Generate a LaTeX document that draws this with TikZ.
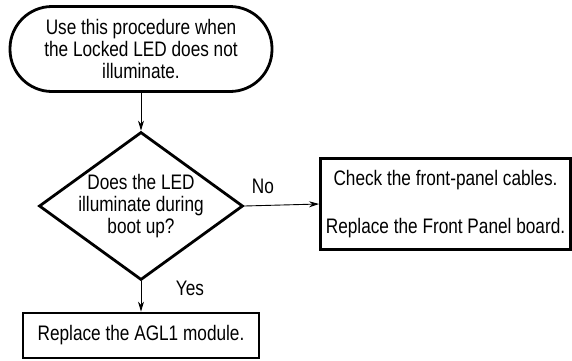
\documentclass[tikz,border=0pt]{standalone}
\usepackage{fontspec}
\setmainfont{Liberation Sans}[FakeStretch=0.82]
\usetikzlibrary{shapes.geometric,arrows.meta}
\tikzset{
  frame/.style={draw, line width=2.8pt, align=center, inner sep=0pt},
  flow/.style={-{Stealth[length=10pt,width=6pt]}, line width=0.9pt}
}
\begin{document}
\begin{tikzpicture}[x=1pt,y=-1pt,font=\fontsize{21}{22}\selectfont]
  \useasboundingbox (0,0) rectangle (572,360);
  % Nodi
  \node[frame, rounded corners=42pt, minimum width=262pt, minimum height=85pt] (start) at (141,49)
    {Use this procedure when\\the Locked LED does not\\illuminate.};
  \node[frame, diamond, aspect=1.38, inner sep=-3pt, minimum width=204pt, minimum height=148pt] (led) at (141,206)
    {Does the LED\\illuminate during\\boot up?};
  \node[frame, minimum width=250pt, minimum height=91pt] (front) at (445.5,204)
    {Check the front-panel cables.\\[26pt]Replace the Front Panel board.};
  \node[frame, minimum width=236pt, minimum height=45pt] (agl) at (141,335.5)
    {Replace the AGL1 module.};
  \node (no) at (263,186) {No};
  \node (yes) at (190,288) {Yes};

  % Archi
  \draw[flow] (start) -- (led);
  \draw[flow] (led.east) -- (front.west);
  \draw[flow] (led.south) -- (agl.north);
\end{tikzpicture}
\end{document}
